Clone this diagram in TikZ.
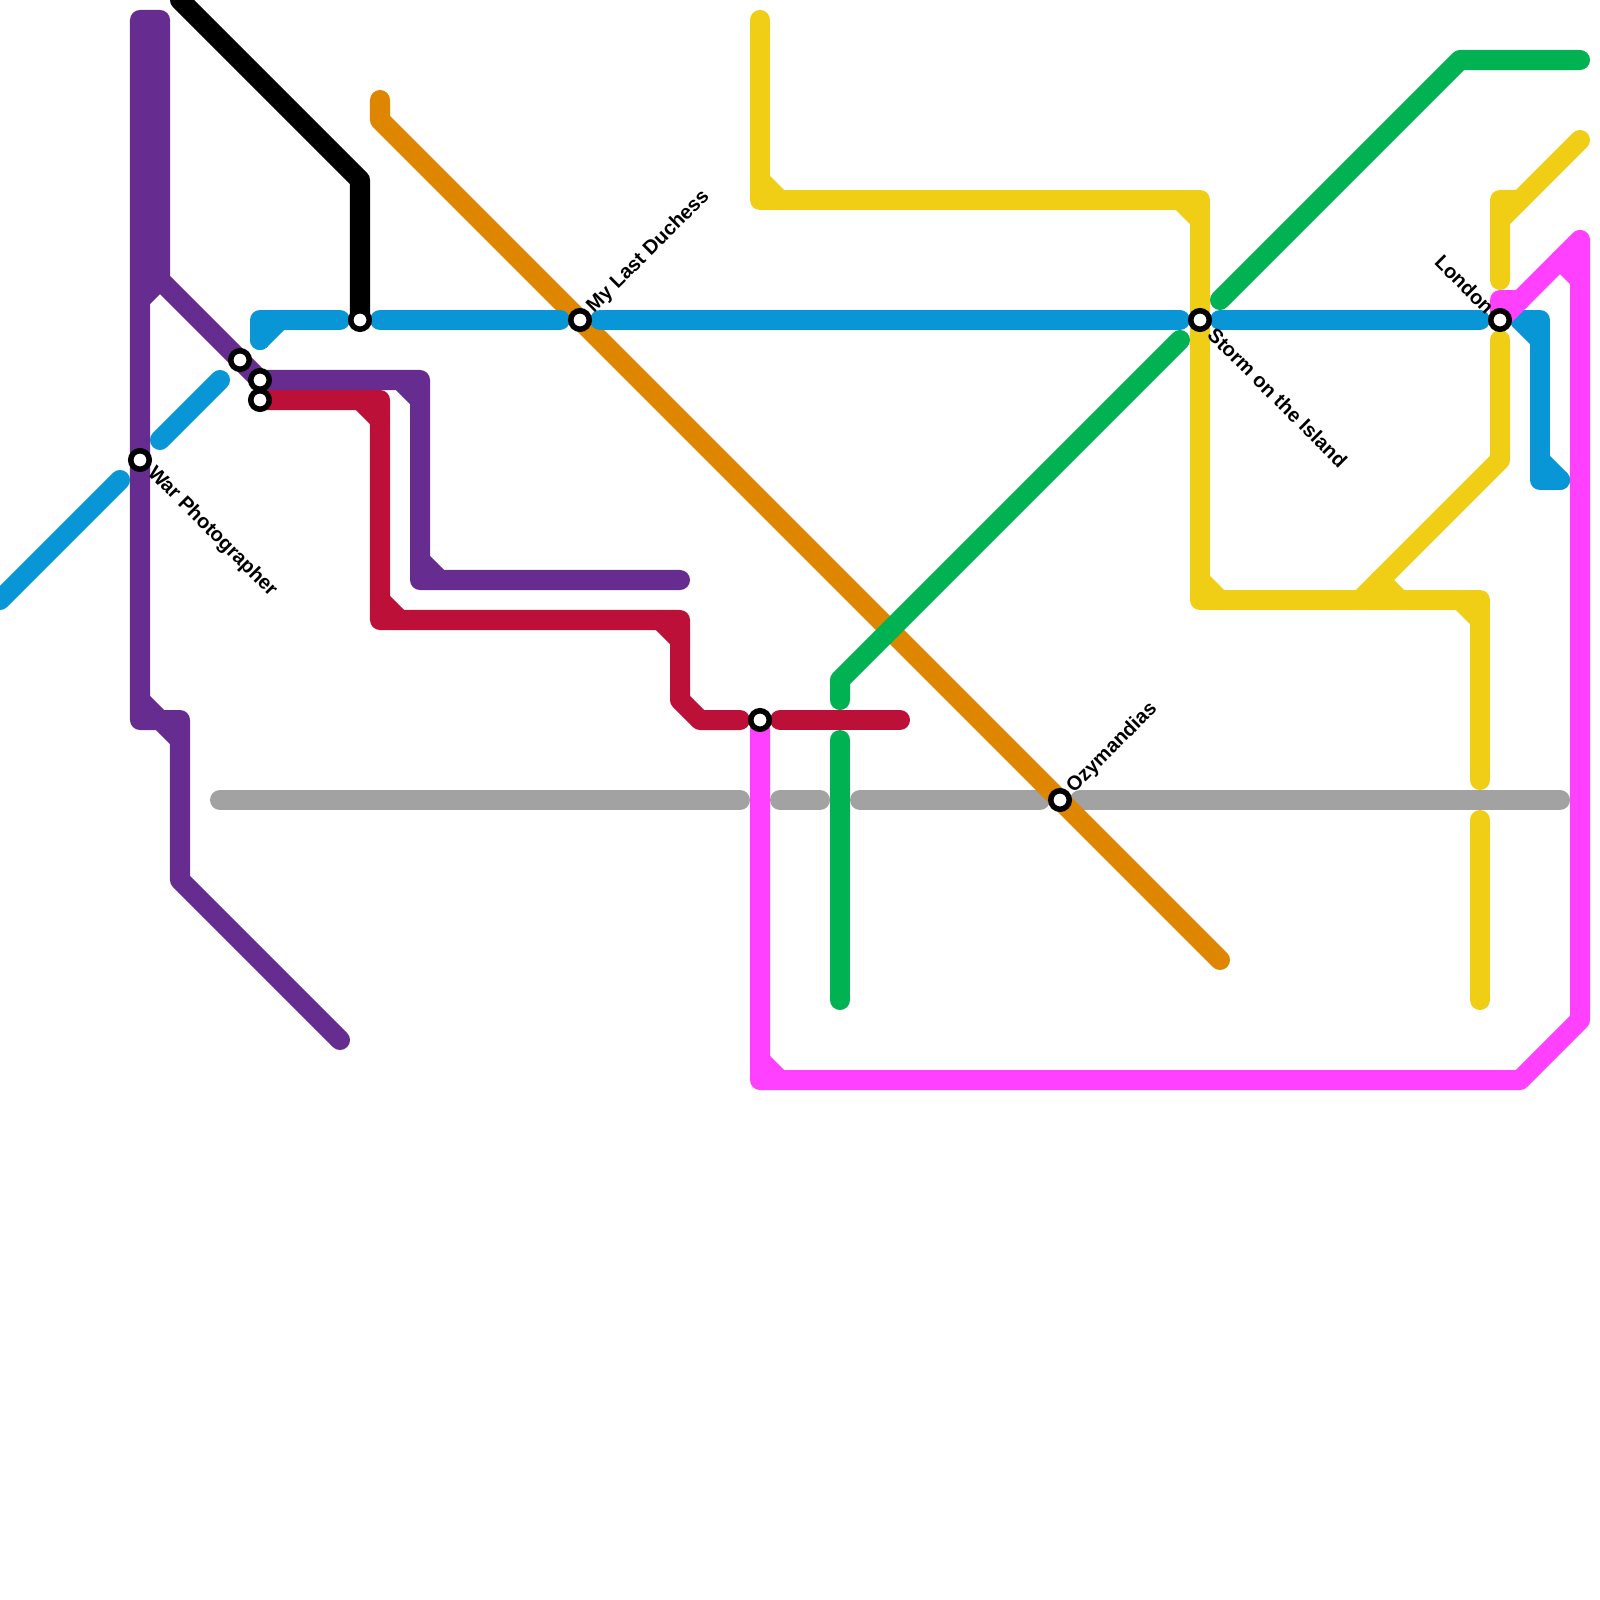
\documentclass[tikz,border=0pt]{standalone}
\usepackage{fontspec}
\setmainfont{Liberation Sans}
\usetikzlibrary{calc}
\definecolor{linepurple}{HTML}{662C90}
\definecolor{lineblue}{HTML}{0896D7}
\definecolor{linered}{HTML}{BD1038}
\definecolor{lineyellow}{HTML}{F0CE15}
\definecolor{linegreen}{HTML}{00B251}
\definecolor{lineorange}{HTML}{DF8600}
\definecolor{linegrey}{HTML}{A2A2A2}
\definecolor{linepink}{HTML}{FF40FF}
\begin{document}
\begin{tikzpicture}[
  x=0.01cm, y=-0.01cm,
  metro/.style={line width=0.2cm, line cap=round, line join=round},
  stn/.style={circle, draw=black, fill=white, line width=0.055cm, minimum size=0.185cm, inner sep=0pt},
  lbl/.style={font=\fontsize{5.7pt}{6pt}\selectfont\bfseries, inner sep=0pt, text=black}
]
  \useasboundingbox (0,0) rectangle (1600,1600);
  \coordinate (poet) at (1500,320);

  % grey
  \draw[metro, linegrey] (220,800) -- (740,800);
  \draw[metro, linegrey] (780,800) -- (820,800);
  \draw[metro, linegrey] (860,800) -- (1040,800);
  \draw[metro, linegrey] (1080,800) -- (1560,800);

  % orange
  \draw[metro, lineorange] (380,100) -- (380,120) -- (1220,960);

  % purple
  \draw[metro, linepurple] (340,1040) -- (180,880) -- (180,720) -- (140,720) -- (140,20) -- (160,20) -- (160,280) -- (260,380) -- (420,380) -- (420,580) -- (680,580);
  \draw[metro, linepurple] (140,700) -- (160,720) -- (180,740);
  \draw[metro, linepurple] (160,280) -- (140,300);
  \draw[metro, linepurple] (400,380) -- (420,400);
  \draw[metro, linepurple] (420,560) -- (440,580);

  % black
  \draw[metro, black] (180,0) -- (360,180) -- (360,320);

  % blue
  \draw[metro, lineblue] (0,600) -- (120,480);
  \draw[metro, lineblue] (160,440) -- (220,380);
  \draw[metro, lineblue] (260,340) -- (260,320) -- (340,320);
  \draw[metro, lineblue] (280,320) -- (260,340);
  \draw[metro, lineblue] (380,320) -- (560,320);
  \draw[metro, lineblue] (600,320) -- (1180,320);
  \draw[metro, lineblue] (1220,320) -- (1480,320);
  \draw[metro, lineblue] (1520,320) -- (1540,320) -- (1540,480) -- (1560,480);
  \draw[metro, lineblue] (1520,320) -- (1540,340);
  \draw[metro, lineblue] (1540,460) -- (1560,480);

  % red
  \draw[metro, linered] (260,400) -- (380,400) -- (380,620) -- (680,620) -- (680,700) -- (700,720) -- (740,720);
  \draw[metro, linered] (360,400) -- (380,420);
  \draw[metro, linered] (380,600) -- (400,620);
  \draw[metro, linered] (660,620) -- (680,640);
  \draw[metro, linered] (780,720) -- (900,720);

  % pink
  \draw[metro, linepink] (760,720) -- (760,1080) -- (1520,1080) -- (1580,1020) -- (1580,240) -- (poet);
  \draw[metro, linepink] (poet) -- (1500,300) -- (1520,300);
  \draw[metro, linepink] (760,1060) -- (780,1080);
  \draw[metro, linepink] (1560,260) -- (1580,280);

  % green
  \draw[metro, linegreen] (840,740) -- (840,1000);
  \draw[metro, linegreen] (840,700) -- (840,680) -- (1180,340);
  \draw[metro, linegreen] (1220,300) -- (1460,60) -- (1580,60);

  % yellow
  \draw[metro, lineyellow] (760,20) -- (760,200) -- (1200,200) -- (1200,600) -- (1480,600) -- (1480,780);
  \draw[metro, lineyellow] (760,180) -- (780,200);
  \draw[metro, lineyellow] (1180,200) -- (1200,220);
  \draw[metro, lineyellow] (1200,580) -- (1220,600);
  \draw[metro, lineyellow] (1460,600) -- (1480,620);
  \draw[metro, lineyellow] (1480,820) -- (1480,1000);
  \draw[metro, lineyellow] (1360,600) -- (1500,460) -- (1500,340);
  \draw[metro, lineyellow] (1380,580) -- (1400,600);
  \draw[metro, lineyellow] (1500,280) -- (1500,200) -- (1520,200) -- (1580,140);
  \draw[metro, lineyellow] (1500,220) -- (1520,200);

  % stations
  \node[stn] (war) at (140,460) {};
  \node[stn] (st1) at (240,360) {};
  \node[stn] (st2) at (260,380) {};
  \node[stn] (st3) at (260,400) {};
  \node[stn] (st4) at (360,320) {};
  \node[stn] (duchess) at (580,320) {};
  \node[stn] (st5) at (760,720) {};
  \node[stn] (ozy) at (1060,800) {};
  \node[stn] (storm) at (1200,320) {};
  \node[stn] (london) at (poet) {};

  \node[lbl, rotate=-45, anchor=west] (warlbl) at ($(war)+(10,10)$) {War Photographer};
  \node[lbl, rotate=45, anchor=west] (duchesslbl) at ($(duchess)+(10,-10)$) {My Last Duchess};
  \node[lbl, rotate=45, anchor=west] (ozylbl) at ($(ozy)+(10,-10)$) {Ozymandias};
  \node[lbl, rotate=-45, anchor=west] (stormlbl) at ($(storm)+(11,11)$) {Storm on the Island};
  \node[lbl, rotate=-45, anchor=east] (londonlbl) at ($(london)+(-9,-9)$) {London};
\end{tikzpicture}
\end{document}
